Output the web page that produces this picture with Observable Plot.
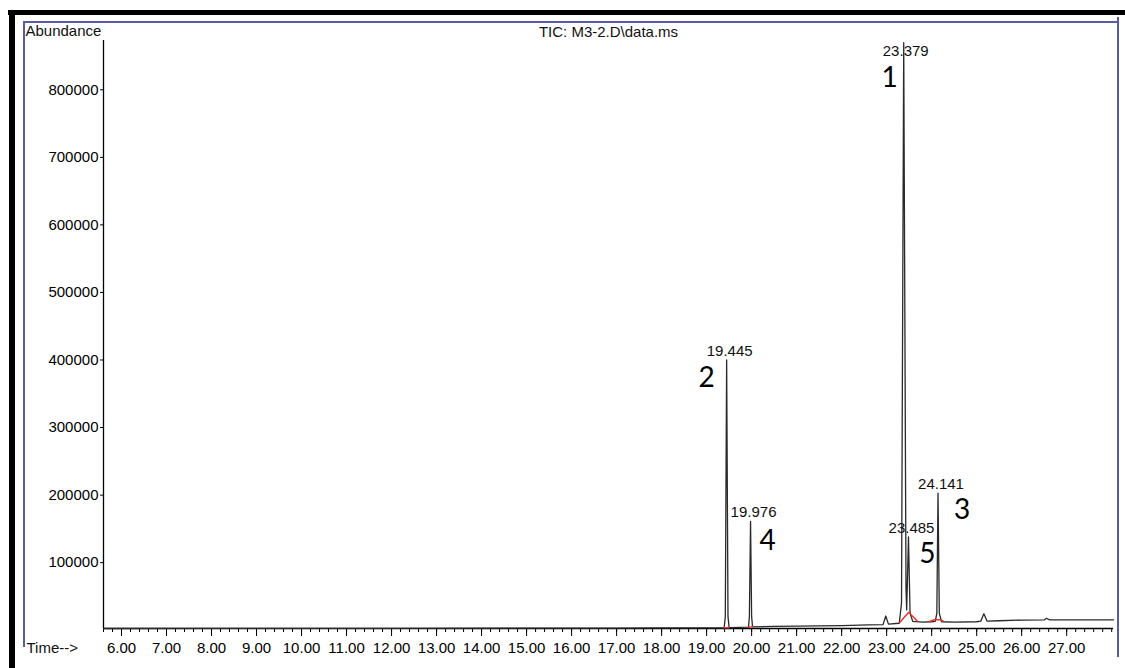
<!DOCTYPE html>
<html>
<head>
<meta charset="utf-8">
<script src="https://cdn.jsdelivr.net/npm/d3@7"></script>
<script src="https://cdn.jsdelivr.net/npm/@observablehq/plot@0.6"></script>
<style>
  html, body { margin: 0; padding: 0; background: #fff; }
  #wrap { position: relative; width: 1125px; height: 668px; overflow: hidden; }
  #wrap svg { position: absolute; left: 0; top: 0; }
  .bar { position: absolute; z-index: 2; }
</style>
</head>
<body>
<div id="wrap">
  <div class="bar" style="left:8px;top:10px;width:1117px;height:5px;background:#000"></div>
  <div class="bar" style="left:9px;top:10px;width:6px;height:658px;background:#000"></div>
  <div class="bar" style="left:23px;top:21px;width:1096px;height:2px;background:#5a5aa0"></div>
  <div class="bar" style="left:23px;top:21px;width:2px;height:626px;background:#5a5aa0"></div>
  <div class="bar" style="left:1117px;top:17px;width:2px;height:640px;background:#5a5aa0"></div>
</div>
<script>
// TIC trace (retention time in minutes, abundance)
const traceTime = [5.6, 8, 12, 15, 17, 18, 19, 19.39, 19.415, 19.445, 19.475, 19.50,
  19.93, 19.95, 19.976, 20.00, 20.02, 20.5, 21, 22, 22.6, 22.92, 22.98, 23.04, 23.28,
  23.33, 23.379, 23.43, 23.445, 23.485, 23.52, 23.58, 23.8, 24.0, 24.08, 24.115, 24.141,
  24.17, 24.22, 24.5, 25.0, 25.09, 25.16, 25.23, 25.5, 26.0, 26.5, 26.55, 26.62, 27.0, 28.04];
const traceAbund = [2500, 2600, 2800, 3000, 3200, 3400, 3500, 3600, 20000, 400000, 20000, 3800,
  4500, 20000, 161000, 20000, 5000, 5500, 5900, 6900, 8000, 8300, 21000, 9000, 10300,
  40000, 870000, 60000, 30000, 138000, 25000, 13000, 12000, 12500, 13000, 25000, 203000,
  25000, 12500, 11800, 12500, 13300, 24300, 13500, 14000, 15000, 15200, 17700, 15300, 15300, 15400];

// red integration baselines
const redSeg   = ["a", "a", "b", "b", "c", "c", "c", "d", "d", "d", "d"];
const redTime  = [19.39, 19.50, 19.93, 20.02, 23.29, 23.49, 23.69, 23.95, 24.06, 24.20, 24.27];
const redAbund = [3600, 3800, 4500, 5000, 11400, 26600, 12900, 12900, 15400, 15400, 12900];

// labelled peaks
const peakTime  = [23.379, 19.445, 24.141, 19.976, 23.485];
const peakApex  = [870000, 400000, 203000, 161000, 138000];
const peakRT    = ["23.379", "19.445", "24.141", "19.976", "23.485"];
const peakNum   = ["1", "2", "3", "4", "5"];

// axis ticks
const xMajor = [6,7,8,9,10,11,12,13,14,15,16,17,18,19,20,21,22,23,24,25,26,27];
const yMajor = [100000,200000,300000,400000,500000,600000,700000,800000];

const trace = traceTime.map((t, i) => ({t, a: traceAbund[i]}));
const red = redTime.map((t, i) => ({t, a: redAbund[i], seg: redSeg[i]}));
const peaks = peakTime.map((t, i) => ({t, a: peakApex[i], rt: peakRT[i], num: peakNum[i]}));
const xMinor = d3.range(5.6, 28.05, 0.2);

const numFont = "Lato, 'Open Sans', sans-serif";
const numOffsets = [[-14, 36], [-20, 18], [24, 17], [17, 20], [19, 17]];

const plot = Plot.plot({
  width: 1125,
  height: 668,
  marginLeft: 103,
  marginRight: 12,
  marginTop: 40,
  marginBottom: 40,
  x: {domain: [5.6, 28.04]},
  y: {domain: [2500, 873000]},
  style: {fontFamily: "'Liberation Sans', Arial, sans-serif", fontSize: "15px", color: "#000", background: "transparent"},
  marks: [
    Plot.axisX(xMinor, {tickSize: 4, tickFormat: () => "", label: null}),
    Plot.axisX(xMajor, {tickSize: 8, tickPadding: 6, tickFormat: d3.format(".2f"), label: null}),
    Plot.axisY(yMajor, {tickSize: 3, tickPadding: 2, tickFormat: d3.format("d"), label: null}),
    Plot.ruleX([5.6], {stroke: "#000", strokeWidth: 1.3}),
    Plot.ruleY([2500], {stroke: "#000", strokeWidth: 1.3}),
    Plot.line(trace, {x: "t", y: "a", stroke: "#2a2a2a", strokeWidth: 1.3}),
    Plot.line(red, {x: "t", y: "a", z: "seg", stroke: "#e8312a", strokeWidth: 1.4}),
    Plot.text(peaks.slice(0, 1), {x: "t", y: "a", text: "rt", dx: 2, dy: 9, fill: "#111"}),
    Plot.text(peaks.slice(1), {x: "t", y: "a", text: "rt", dx: 3, dy: -9, fill: "#111"}),
    ...peaks.map((p, i) => Plot.text([p], {x: "t", y: "a", text: "num", dx: numOffsets[i][0], dy: numOffsets[i][1],
      fontFamily: numFont, fontSize: 28, fill: "#000"})),
    Plot.text(["TIC: M3-2.D\\data.ms"], {frameAnchor: "top", dy: -14, fill: "#111"}),
    Plot.text(["Abundance"], {frameAnchor: "top-left", textAnchor: "start", dx: -78, dy: -15, fill: "#111"}),
    Plot.text(["Time-->"], {frameAnchor: "bottom-left", textAnchor: "start", dx: -77, dy: 24, fill: "#111"})
  ]
});
document.getElementById("wrap").prepend(plot);
</script>
</body>
</html>
